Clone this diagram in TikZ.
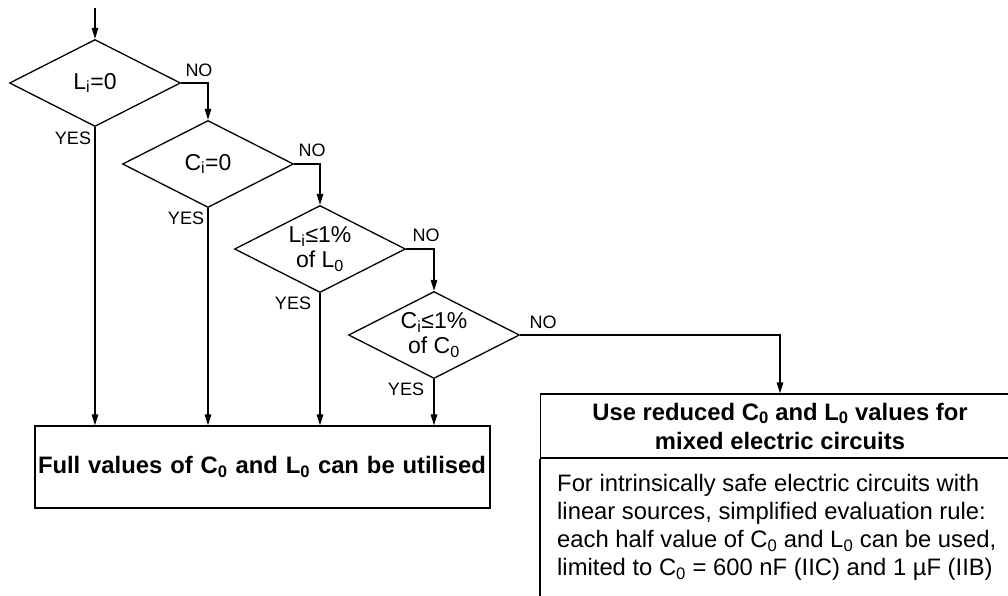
\documentclass[tikz,border=0pt]{standalone}
\usepackage{fontspec}
\setmainfont{Liberation Sans}
\usetikzlibrary{shapes.geometric,arrows.meta}
\newcommand\sbs[1]{\textsubscript{#1}}
\tikzset{
  arr/.style={draw, line width=1.3pt, -{Triangle[length=11pt,width=6.5pt]}},
  ln/.style={draw, line width=1.3pt},
  dec/.style={diamond, shape aspect=2, draw, line width=1.3pt, minimum width=171pt, minimum height=87pt, inner sep=0pt, align=center, font=\fontsize{23}{25}\selectfont},
  lab/.style={font=\fontsize{18}{20}\selectfont, inner sep=0pt},
  bigbox/.style={draw, line width=1.3pt, inner sep=0pt},
}
\begin{document}
\begin{tikzpicture}[x=1pt,y=-1pt]
\useasboundingbox (0,0) rectangle (1008,595);
\clip (0,0) rectangle (1008,595);
\coordinate (start) at (95,8);
\node[dec] (d1) at (95,83) {L\sbs{i}=0};
\node[dec] (d2) at (208,164) {C\sbs{i}=0};
\node[dec] (d3) at (320,249) {L\sbs{i}≤1\%\\of L\sbs{0}};
\node[dec] (d4) at (434,335) {C\sbs{i}≤1\%\\of C\sbs{0}};
\node[bigbox, minimum width=455pt, minimum height=82pt, inner xsep=3pt, text width=449pt, align=left, font=\bfseries\fontsize{23.8}{26}\selectfont] (full) at (262.5,467) {Full values of C\sbs{0} and L\sbs{0} can be utilised};
\node[bigbox, minimum width=479pt, minimum height=64pt, align=center, font=\bfseries\fontsize{23.8}{29}\selectfont] (hdr) at (780,426) {Use reduced C\sbs{0} and L\sbs{0} values for\\mixed electric circuits};
\coordinate (bl) at (hdr.south west);
\coordinate (blbot) at ([yshift=-200pt]hdr.south west);
\draw[ln] (bl) -- (blbot);
\node[anchor=north west, inner sep=0pt, align=left, font=\fontsize{23.8}{28}\selectfont] (body) at (557,474) {For intrinsically safe electric circuits with\\linear sources, simplified evaluation rule:\\each half value of C\sbs{0} and L\sbs{0} can be used,\\limited to C\sbs{0} = 600 nF (IIC) and 1 µF (IIB)};
\draw[arr] (start) -- (d1.north);
\draw[arr] (d1.east) -| (d2.north);
\draw[arr] (d2.east) -| (d3.north);
\draw[arr] (d3.east) -| (d4.north);
\draw[arr] (d4.east) -| (hdr.north);
\draw[arr] (d1.south) -- (d1.south |- full.north);
\draw[arr] (d2.south) -- (d2.south |- full.north);
\draw[arr] (d3.south) -- (d3.south |- full.north);
\draw[arr] (d4.south) -- (d4.south |- full.north);
\node[lab] (no1) at (199,70) {NO};
\node[lab] (no2) at (312,150) {NO};
\node[lab] (no3) at (426,235) {NO};
\node[lab] (no4) at (543,322) {NO};
\node[lab] (y1) at (73,138) {YES};
\node[lab] (y2) at (186,218) {YES};
\node[lab] (y3) at (293,303) {YES};
\node[lab] (y4) at (406,389) {YES};
\end{tikzpicture}
\end{document}
